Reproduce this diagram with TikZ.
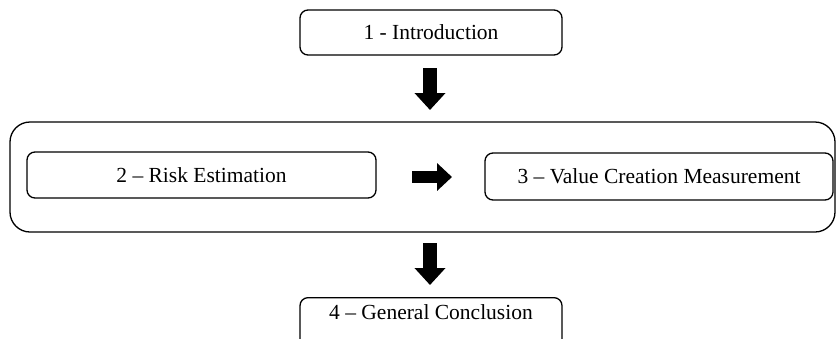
\documentclass[tikz,border=0pt]{standalone}
\usepackage{fontspec}
\setmainfont{Liberation Serif}
\usetikzlibrary{arrows.meta}
\tikzset{
  stagebox/.style={draw=black, line width=1.3pt, rounded corners=8pt, inner sep=0pt,
    font=\fontsize{21.5}{25}\selectfont},
  groupbox/.style={draw=black, line width=1.3pt, rounded corners=20pt, inner sep=0pt},
  blockdown/.style={line width=14pt, -{Triangle[length=17pt,width=30pt]}},
  blockright/.style={line width=12pt, -{Triangle[length=15pt,width=27pt]}}
}
\begin{document}
\begin{tikzpicture}[x=1pt,y=-1pt]
\useasboundingbox (0,0) rectangle (837,338);
\clip (0,0) rectangle (837,338);
\node[groupbox, minimum width=825pt, minimum height=110pt] (grp) at (422.5,177) {};
\node[stagebox, minimum width=262pt, minimum height=45pt] (s1) at (431,32.5) {1 - Introduction};
\node[stagebox, minimum width=349pt, minimum height=46pt] (s2) at (201.5,175) {2 – Risk Estimation};
\node[stagebox, minimum width=348pt, minimum height=47pt] (s3) at (659,176.5) {3 – Value Creation Measurement};
\node[stagebox, minimum width=262pt, anchor=north, inner ysep=7pt, text height=15pt, text depth=32pt] (s4) at (431,297) {4 – General Conclusion};
\coordinate (a1s) at (430,68);
\coordinate (a1e) at (430,110);
\coordinate (a2s) at (412,177);
\coordinate (a2e) at (452,177);
\coordinate (a3s) at (430,243);
\coordinate (a3e) at (430,285);
\draw[blockdown] (a1s) -- (a1e);
\draw[blockright] (a2s) -- (a2e);
\draw[blockdown] (a3s) -- (a3e);
\end{tikzpicture}
\end{document}
